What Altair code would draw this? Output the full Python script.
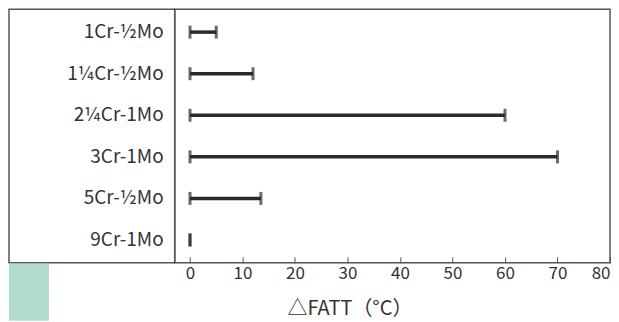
import altair as alt
import pandas as pd

# ---- data ----
alloys = ["1Cr-½Mo", "1¼Cr-½Mo", "2¼Cr-1Mo", "3Cr-1Mo", "5Cr-½Mo", "9Cr-1Mo"]
low = [0, 0, 0, 0, 0, 0]
delta_fatt = [5, 12, 60, 70, 13.5, 0]
x_ticks = [0, 10, 20, 30, 40, 50, 60, 70, 80]

df = pd.DataFrame({"alloy": alloys, "low": low, "value": delta_fatt})

FONT = "Noto Sans CJK JP"
INK = "#2b2b2b"
TXT = "#333333"

yscale = alt.Scale(type="point", domain=alloys, padding=0.55)
Y = alt.Y("alloy:N", scale=yscale, axis=None, sort=alloys)

# left panel: alloy names inside the framed box
labels = alt.Chart(df).mark_text(
    align="right", baseline="middle", font=FONT, fontSize=19, color=TXT
).encode(y=Y, x=alt.value(155), text="alloy:N")

strip = alt.Chart(pd.DataFrame({"k": [0]})).mark_rect(color="#b2dccb").encode(
    x=alt.value(0), x2=alt.value(40), y=alt.value(255), y2=alt.value(312)
)
left = alt.layer(strip, labels).properties(width=166, height=254)

# right panel: ranges with end caps
xaxis = alt.Axis(
    values=x_ticks, format="d", domain=False, ticks=False,
    grid=True, gridDash=[6, 1000], gridColor="#555", gridWidth=1,
    labelFont=FONT, labelFontSize=17, labelColor=TXT, labelPadding=3,
    labelFlush=True, labelFlushOffset=0, labelOverlap=False, labelBound=False,
    title="△FATT（°C）", titleFont=FONT, titleFontSize=20,
    titleFontWeight="normal", titleColor=TXT,
    titleX=175, titleY=52, titleBaseline="alphabetic", titleAlign="center",
)
xscale = alt.Scale(domain=[-2.91, 80], nice=False, zero=False)

base = alt.Chart(df)
bars = base.mark_rule(strokeWidth=3.5, color=INK).encode(
    x=alt.X("low:Q", scale=xscale, axis=xaxis), x2="value:Q", y=Y
)
cap0 = base.mark_tick(orient="vertical", size=13, thickness=3, color=INK).encode(
    x=alt.X("low:Q", scale=xscale, axis=xaxis), y=Y
)
cap1 = base.mark_tick(orient="vertical", size=13, thickness=3, color=INK).encode(
    x=alt.X("value:Q", scale=xscale, axis=xaxis), y=Y
)
right = alt.layer(bars, cap0, cap1).properties(width=436, height=254)

chart = (
    alt.hconcat(left, right, spacing=0, bounds="flush")
    .properties(padding=0, background="white")
    .configure_view(stroke="#555", strokeWidth=1.5)
)

chart.save("out.html", embed_options={"renderer": "svg", "actions": False})
